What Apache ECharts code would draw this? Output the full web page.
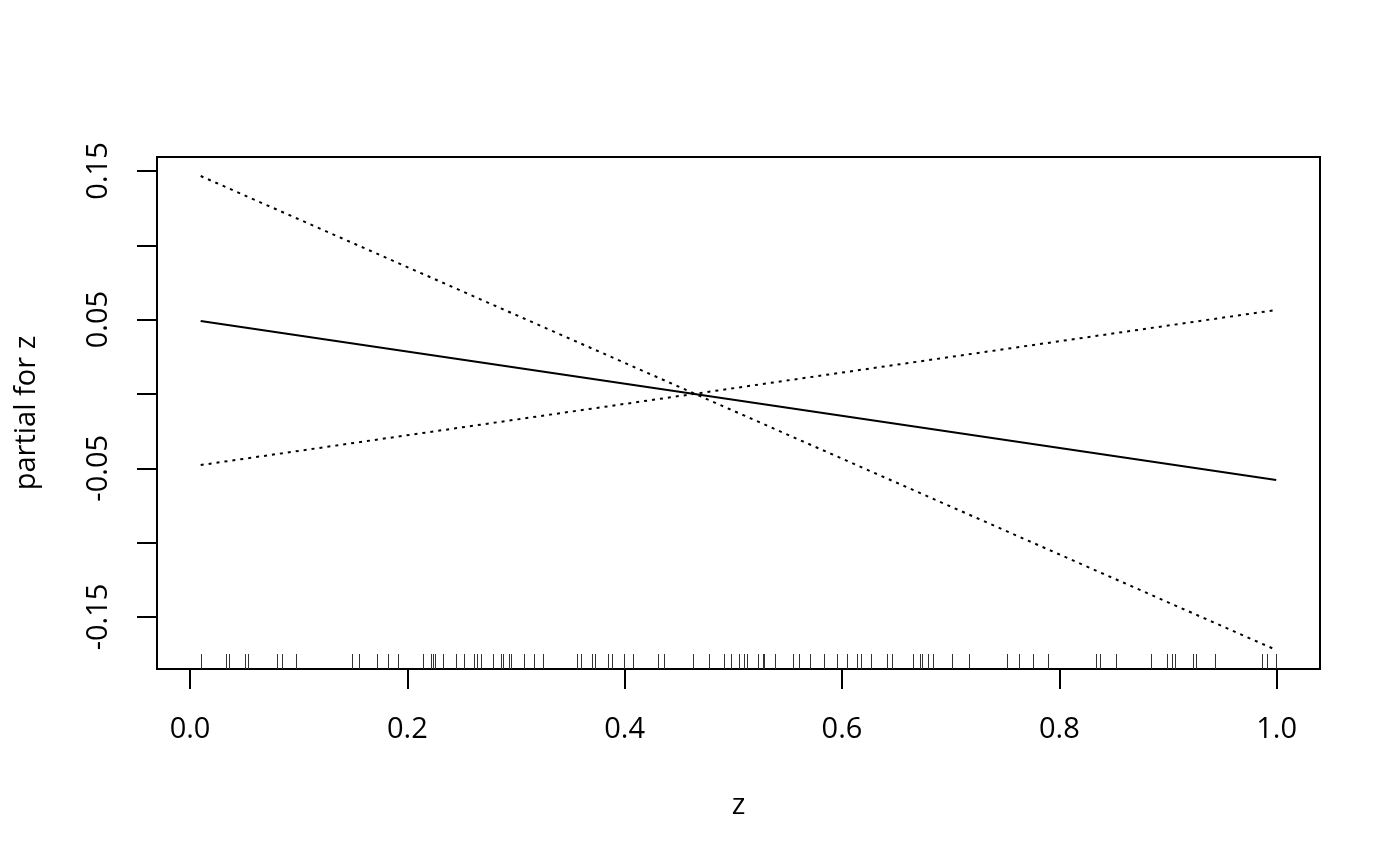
<!DOCTYPE html>
<html>
<head>
<meta charset="utf-8">
<script src="https://cdn.jsdelivr.net/npm/echarts@6/dist/echarts.min.js"></script>
<style>html,body{margin:0;padding:0;background:#fff}#c{width:1400px;height:866px}</style>
</head>
<body>
<div id="c"></div>
<script>
// ---- data ----
var rugZ = [0.0098,0.0329,0.0359,0.0506,0.0534,0.0803,0.0847,0.0978,0.1494,0.1558,0.1721,0.1819,0.1911,
  0.2141,0.2218,0.2236,0.2257,0.2331,0.2451,0.2519,0.2613,0.2644,0.2675,0.2786,0.2865,0.2883,0.2938,0.2957,
  0.3076,0.3166,0.3251,0.3559,0.3598,0.3699,0.3730,0.3844,0.3881,0.3991,0.4079,0.4307,0.4362,0.4632,0.4779,
  0.4911,0.4978,0.5055,0.5098,0.5123,0.5224,0.5270,0.5285,0.5383,0.5546,0.5607,0.5705,0.5834,0.5957,0.6043,
  0.6141,0.6172,0.6269,0.6411,0.6457,0.6656,0.6718,0.6739,0.6789,0.6840,0.7009,0.7166,0.7515,0.7626,0.7755,
  0.7893,0.8334,0.8374,0.8518,0.8843,0.8988,0.9034,0.9064,0.9227,0.9257,0.9432,0.9867,0.9908,0.9996];
var fitZ = [0.0098, 0.9996];
var fitValues = [0.0491, -0.0578];
var bandA = [0.1466, -0.1722];
var bandB = [-0.0478, 0.0565];
var xTicks = [0, 0.2, 0.4, 0.6, 0.8, 1.0];
var xTickLabels = ['0.0', '0.2', '0.4', '0.6', '0.8', '1.0'];
var yTicks = [-0.15, -0.10, -0.05, 0, 0.05, 0.10, 0.15];
var yLabelValues = [-0.15, -0.05, 0.05, 0.15];
var yTickLabels = ['-0.15', '-0.05', '0.05', '0.15'];
var xLabel = 'z';
var yLabel = 'partial for z';

function pairs(xs, ys) { return xs.map(function (x, i) { return [x, ys[i]]; }); }

var FONT = 'Open Sans';
var FS = 29;
var chart = echarts.init(document.getElementById('c'), null, { renderer: 'canvas' });
var yMin = -0.185, yMax = 0.1594;
chart.setOption({
  animation: false,
  backgroundColor: '#fff',
  grid: { left: 157, right: 80, top: 157, bottom: 197, show: true, borderColor: '#000', borderWidth: 2, backgroundColor: 'transparent' },
  xAxis: {
    type: 'value', min: -0.0304, max: 1.0399,
    name: xLabel, nameLocation: 'middle', nameGap: 122,
    nameTextStyle: { fontFamily: FONT, fontSize: FS, color: '#000' },
    axisLine: { show: false, onZero: false },
    splitLine: { show: false },
    axisTick: { show: true, inside: false, length: 20, customValues: xTicks, lineStyle: { color: '#000', width: 2 } },
    axisLabel: {
      show: true, margin: 46, customValues: xTicks, fontFamily: FONT, fontSize: FS, color: '#000',
      formatter: function (v) { var i = xTicks.findIndex(function (t) { return Math.abs(t - v) < 1e-9; }); return i >= 0 ? xTickLabels[i] : ''; }
    }
  },
  yAxis: {
    type: 'value', min: yMin, max: yMax,
    name: yLabel, nameLocation: 'middle', nameGap: 116, nameRotate: 90,
    nameTextStyle: { fontFamily: FONT, fontSize: FS, color: '#000' },
    axisLine: { show: false, onZero: false },
    splitLine: { show: false },
    axisTick: { show: true, inside: false, length: 20, customValues: yTicks, lineStyle: { color: '#000', width: 2 } },
    axisLabel: {
      show: true, margin: 44, rotate: 90, customValues: yLabelValues, fontFamily: FONT, fontSize: FS, color: '#000',
      formatter: function (v) { var i = yLabelValues.findIndex(function (t) { return Math.abs(t - v) < 1e-9; }); return i >= 0 ? yTickLabels[i] : ''; }
    }
  },
  series: [
    {
      type: 'line', data: pairs(fitZ, fitValues), showSymbol: false, symbol: 'none',
      lineStyle: { color: '#000', width: 2 }, silent: true
    },
    {
      type: 'line', data: pairs(fitZ, bandA), showSymbol: false, symbol: 'none',
      lineStyle: { color: '#000', width: 2, type: [3, 5] }, silent: true
    },
    {
      type: 'line', data: pairs(fitZ, bandB), showSymbol: false, symbol: 'none',
      lineStyle: { color: '#000', width: 2, type: [3, 5] }, silent: true
    },
    {
      type: 'custom', silent: true,
      data: rugZ.map(function (z) { return [z]; }),
      renderItem: function (params, api) {
        var p = api.coord([api.value(0), yMin]);
        return { type: 'line', shape: { x1: Math.round(p[0]) + 0.5, y1: p[1], x2: Math.round(p[0]) + 0.5, y2: p[1] - 15 }, style: { stroke: '#333', lineWidth: 1 } };
      },
      encode: { x: 0 }
    }
  ]
});
</script>
</body>
</html>
